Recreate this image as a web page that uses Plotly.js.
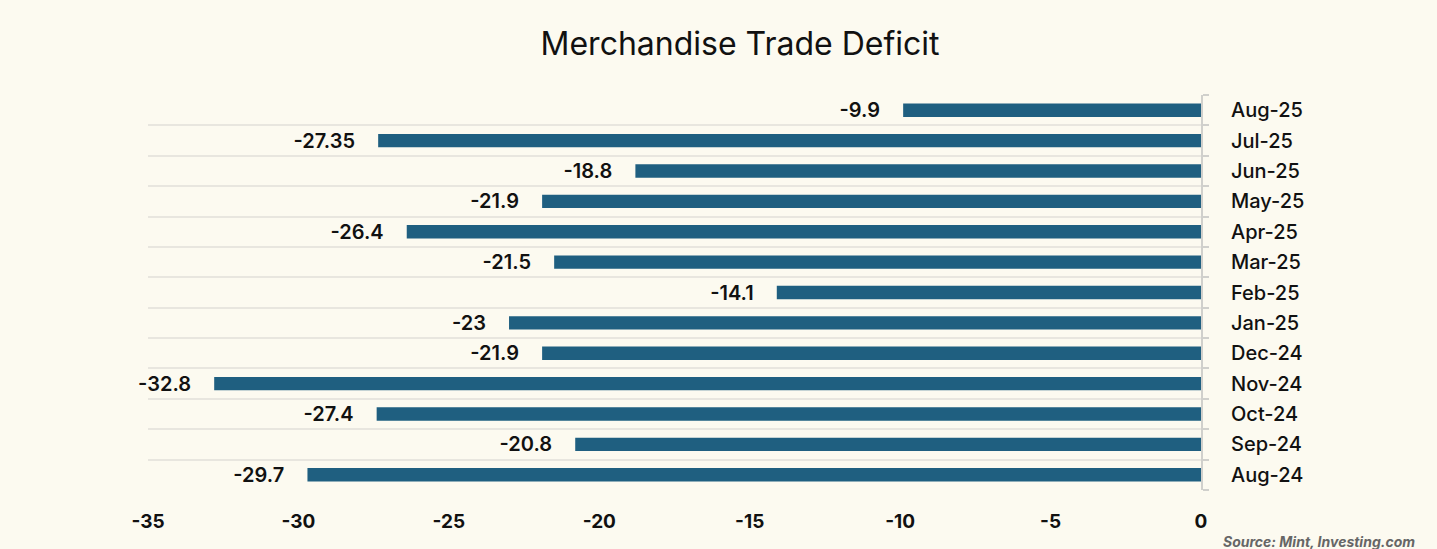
<!DOCTYPE html>
<html>
<head>
<meta charset="utf-8">
<script src="https://cdn.plot.ly/plotly-3.0.1.min.js"></script>
<style>
html,body{margin:0;padding:0;background:#fcfaf0;}
#chart{width:1437px;height:549px;}
</style>
</head>
<body>
<div id="chart"></div>
<script>
const months = ["Aug-24","Sep-24","Oct-24","Nov-24","Dec-24","Jan-25","Feb-25","Mar-25","Apr-25","May-25","Jun-25","Jul-25","Aug-25"];
const deficit = [-29.7,-20.8,-27.4,-32.8,-21.9,-23,-14.1,-21.5,-26.4,-21.9,-18.8,-27.35,-9.9];
const xTicks = [-35,-30,-25,-20,-15,-10,-5,0];
const labels = deficit.map(v => String(v) + "\u00a0\u00a0\u00a0\u00a0");

const trace = {
  type: "bar",
  orientation: "h",
  x: deficit,
  y: months,
  text: labels,
  textposition: "outside",
  constraintext: "none",
  cliponaxis: false,
  textfont: {family: "Inter, sans-serif", size: 20, color: "#111", weight: 600},
  marker: {color: "#1f5f80"},
  hoverinfo: "x+y"
};

const layout = {
  width: 1437, height: 549,
  paper_bgcolor: "#fcfaf0",
  plot_bgcolor: "#fcfaf0",
  margin: {l: 148, r: 236, t: 95, b: 59},
  bargap: 0.56,
  showlegend: false,
  title: {
    text: "Merchandise Trade Deficit",
    font: {family: "Inter, sans-serif", size: 32, color: "#111"},
    xref: "container", x: 0.515, xanchor: "center",
    yref: "container", y: 0.92, yanchor: "middle"
  },
  xaxis: {
    range: [-35, 0],
    tickvals: xTicks,
    ticktext: xTicks.map(String),
    showgrid: false,
    zeroline: false,
    showline: false,
    ticks: "",
    ticklabelstandoff: 18,
    tickfont: {family: "Inter, sans-serif", size: 19, color: "#111", weight: 700}
  },
  yaxis: {
    type: "category",
    categoryorder: "array",
    categoryarray: months,
    side: "right",
    tickson: "boundaries",
    range: [-0.5, 12.5],
    showgrid: true,
    gridcolor: "#e8e6df",
    gridwidth: 2,
    showline: true,
    linecolor: "#d0d0cc",
    linewidth: 2,
    ticks: "outside",
    ticklen: 6,
    tickcolor: "#d0d0cc",
    tickwidth: 2,
    ticklabelstandoff: 24,
    zeroline: false,
    tickfont: {family: "Inter, sans-serif", size: 20, color: "#111", weight: 500}
  },
  annotations: [{
    text: "<i><b>Source: Mint, Investing.com</b></i>",
    xref: "paper", yref: "paper",
    x: 1, xanchor: "left", xshift: 20,
    y: 0, yanchor: "middle", yshift: -51,
    showarrow: false,
    font: {family: "Inter, sans-serif", size: 14, color: "#666"}
  }]
};

Plotly.newPlot("chart", [trace], layout, {displayModeBar: false, staticPlot: true});
</script>
</body>
</html>
